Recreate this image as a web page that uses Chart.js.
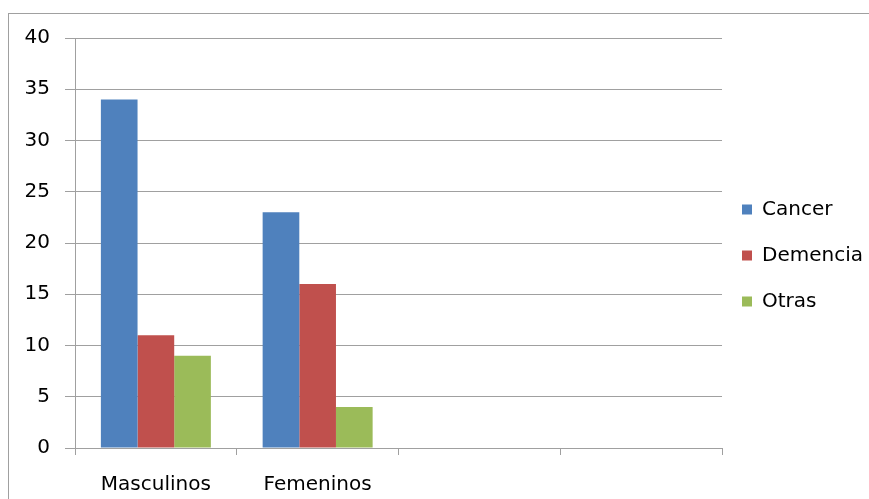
<!DOCTYPE html>
<html lang="es">
<head>
<meta charset="UTF-8">
<title>Cancer / Demencia / Otras</title>
<script src="https://cdn.jsdelivr.net/npm/chart.js"></script>
<style>
html,body{margin:0;padding:0;background:#fff;overflow:hidden;}
.frame{position:absolute;left:8px;top:13px;width:900px;height:520px;border:1px solid #a0a0a0;}
.frame canvas{position:absolute;left:0;top:0;}
</style>
</head>
<body>
<div class="frame"><canvas id="chart" width="880" height="486"></canvas></div>

<script>
Chart.defaults.animation=false;
Chart.defaults.font.family="'DejaVu Sans', Verdana, sans-serif";
Chart.defaults.font.size=20;
Chart.defaults.color="#000";

/* ── data ───────────────────────────────────────────── */
const CATEGORIES=["Masculinos","Femeninos","",""];
const CANCER  =[34,23,null,null];
const DEMENCIA=[11,16,null,null];
const OTRAS   =[9,4,null,null];
const Y_TICKS =[0,5,10,15,20,25,30,35,40];

const GRID="#a0a0a0";

/* legend sits a bit closer to the plot and higher than Chart.js puts it */
const legendNudge={
  id:"legendNudge",
  afterLayout(chart){
    const L=chart.legend;
    L.left-=6; L.right-=6;
    L.top-=27;
  }
};

new Chart(document.getElementById("chart"),{
  type:"bar",
  data:{
    labels:CATEGORIES,
    datasets:[
      {label:"Cancer",  data:CANCER,  backgroundColor:"#4F81BD"},
      {label:"Demencia",data:DEMENCIA,backgroundColor:"#C0504D"},
      {label:"Otras",   data:OTRAS,   backgroundColor:"#9BBB59"}
    ]
  },
  plugins:[legendNudge],
  options:{
    responsive:false,
    layout:{padding:{top:24,right:10,left:0,bottom:0}},
    datasets:{bar:{categoryPercentage:0.68,barPercentage:1}},
    scales:{
      x:{
        offset:true,
        grid:{offset:true,drawOnChartArea:false,drawTicks:true,tickLength:7,color:GRID},
        border:{color:GRID},
        ticks:{padding:18,maxRotation:0,autoSkip:false},
        afterFit:s=>{s.height=52;}
      },
      y:{
        min:0,max:40,
        afterBuildTicks:s=>{s.ticks=Y_TICKS.map(v=>({value:v}));},
        grid:{color:GRID,tickLength:10},
        border:{color:GRID},
        ticks:{padding:15},
        afterFit:s=>{s.width=66;s.paddingTop=0;s.paddingBottom=0;}
      }
    },
    plugins:{
      legend:{
        position:"right",
        labels:{boxWidth:10,boxHeight:10,padding:26,font:{size:20}}
      },
      tooltip:{enabled:false}
    }
  }
});
</script>
</body>
</html>
